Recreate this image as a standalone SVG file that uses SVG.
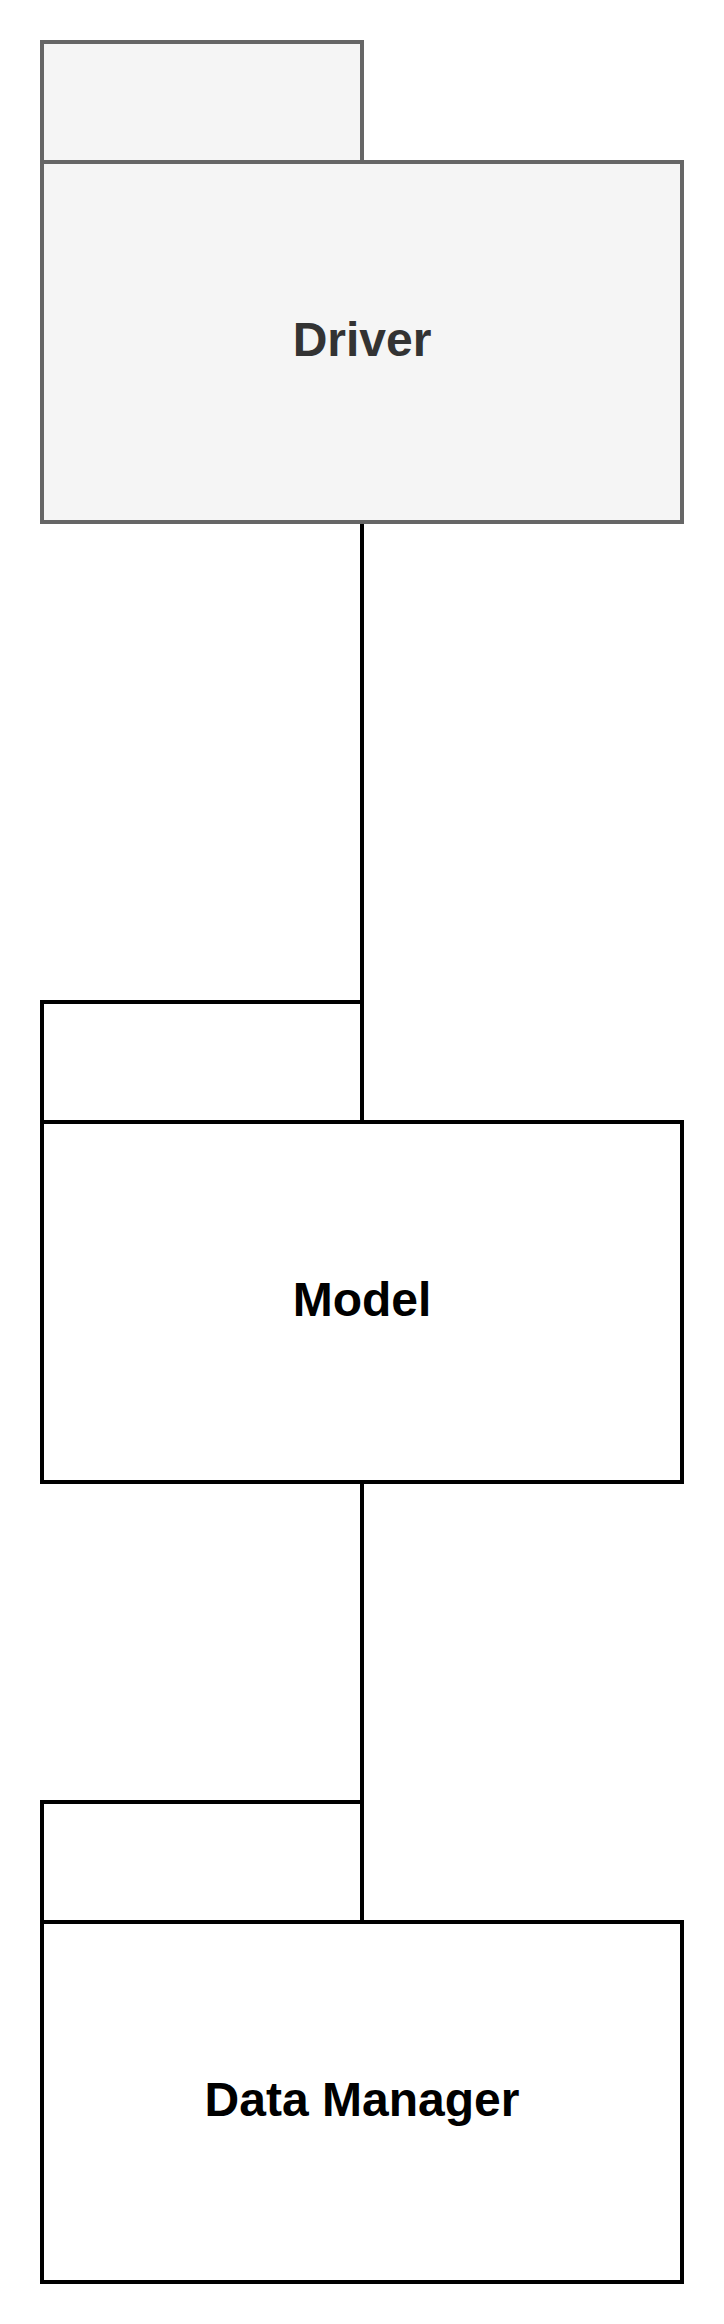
<svg xmlns="http://www.w3.org/2000/svg" width="724" height="2324" viewBox="0 0 724 2324">
<style>
.grey rect{fill:#f5f5f5;stroke:#666666;stroke-width:4}
.plain rect{fill:#ffffff;stroke:#000000;stroke-width:4}
text{font-family:"Liberation Sans",Arial,sans-serif;font-weight:bold;font-size:48px;text-anchor:middle}
.grey text{fill:#333333}
.plain text{fill:#000000}
.edges line{stroke:#000000;stroke-width:4}
</style>
<rect width="724" height="2324" fill="#ffffff"/>
<g class="edges">
<line x1="362" y1="522" x2="362" y2="1122"/>
<line x1="362" y1="1482" x2="362" y2="1922"/>
</g>
<g id="driver" class="grey">
<rect x="42" y="42" width="320" height="120"/>
<rect x="42" y="162" width="640" height="360"/>
<text x="362" y="356">Driver</text>
</g>
<g id="model" class="plain">
<rect x="42" y="1002" width="320" height="120"/>
<rect x="42" y="1122" width="640" height="360"/>
<text x="362" y="1316">Model</text>
</g>
<g id="datamanager" class="plain">
<rect x="42" y="1802" width="320" height="120"/>
<rect x="42" y="1922" width="640" height="360"/>
<text x="362" y="2116">Data Manager</text>
</g>
</svg>
